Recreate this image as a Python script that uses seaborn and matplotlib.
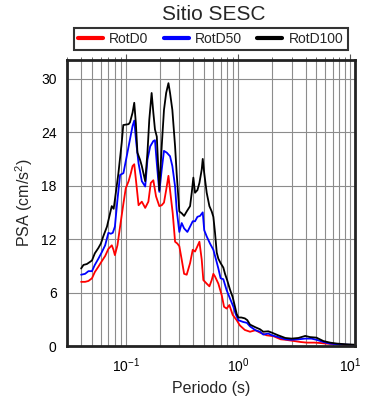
import matplotlib
matplotlib.use("Agg")
import matplotlib.pyplot as plt
import matplotlib.ticker as mticker
import pandas as pd
import seaborn as sns

# periods (s) and PSA (cm/s^2)
period_d0 = [0.040, 0.0434, 0.0465, 0.050, 0.053, 0.057, 0.061, 0.0655, 0.070, 0.0751,
             0.0777, 0.080, 0.0843, 0.089, 0.0953, 0.100, 0.106, 0.111, 0.115, 0.119,
             0.124, 0.130, 0.139, 0.149, 0.159, 0.167, 0.176, 0.186, 0.199, 0.209,
             0.219, 0.229, 0.240, 0.248, 0.262, 0.275, 0.288, 0.300, 0.315, 0.331,
             0.349, 0.374, 0.395, 0.414, 0.435, 0.453, 0.475, 0.491, 0.526, 0.556,
             0.583, 0.603, 0.624, 0.668, 0.716, 0.751, 0.793, 0.837, 0.896, 0.973,
             1.04, 1.15, 1.28, 1.43, 1.57, 1.8, 2.07, 2.4, 2.64, 3.0,
             3.6, 4.1, 4.8, 5.35, 6.1, 7.6, 9.3, 10.8]
psa_d0 = [7.2, 7.2, 7.3, 7.6, 8.3, 8.9, 9.5, 10.1, 10.9, 11.3,
          10.8, 10.2, 11.3, 13.4, 16.0, 17.7, 18.5, 19.4, 20.2, 20.4,
          18.3, 15.8, 16.2, 15.5, 16.2, 18.3, 18.6, 16.8, 15.7, 15.8,
          16.1, 17.5, 19.1, 17.5, 14.9, 11.7, 11.5, 11.2, 9.7, 8.1,
          8.0, 9.3, 10.8, 10.6, 11.2, 11.7, 9.7, 7.4, 7.0, 6.7,
          7.4, 8.1, 7.8, 7.0, 5.7, 4.4, 4.2, 4.6, 3.5, 2.9,
          2.3, 1.8, 1.6, 1.77, 1.5, 1.2, 1.1, 0.75, 0.7, 0.6,
          0.45, 0.38, 0.38, 0.34, 0.27, 0.2, 0.11, 0.08]

period_d50 = [0.040, 0.0434, 0.0465, 0.050, 0.053, 0.057, 0.061, 0.0655, 0.070, 0.0735,
              0.0766, 0.080, 0.0843, 0.089, 0.0953, 0.102, 0.109, 0.115, 0.119, 0.124,
              0.130, 0.139, 0.149, 0.156, 0.165, 0.176, 0.182, 0.189, 0.199, 0.209,
              0.219, 0.232, 0.248, 0.260, 0.275, 0.284, 0.300, 0.315, 0.331, 0.354,
              0.374, 0.395, 0.414, 0.435, 0.459, 0.485, 0.50, 0.526, 0.563, 0.603,
              0.637, 0.668, 0.70, 0.74, 0.79, 0.85, 0.91, 0.96, 1.007, 1.11,
              1.2, 1.28, 1.43, 1.57, 1.68, 1.86, 2.0, 2.28, 2.64, 3.0,
              3.45, 3.97, 4.5, 5.0, 5.75, 6.6, 7.6, 9.3, 10.8]
psa_d50 = [8.0, 8.1, 8.4, 8.4, 9.1, 9.8, 10.5, 11.3, 12.7, 12.6,
           12.7, 13.4, 16.4, 19.2, 19.4, 21.3, 23.2, 24.7, 25.3, 22.8,
           20.5, 18.5, 17.9, 20.9, 22.4, 23.0, 23.1, 20.5, 17.3, 19.8,
           21.9, 21.7, 21.3, 20.2, 17.9, 15.3, 12.8, 13.8, 13.2, 12.8,
           13.4, 14.0, 14.0, 14.5, 14.6, 15.0, 13.0, 12.3, 11.5, 10.8,
           9.7, 8.7, 7.6, 7.5, 6.3, 5.3, 4.4, 3.5, 2.9, 2.7,
           2.6, 2.2, 1.77, 1.6, 1.28, 1.4, 1.2, 1.0, 0.75, 0.7,
           0.75, 0.83, 0.83, 0.7, 0.45, 0.27, 0.2, 0.15, 0.11]

period_d100 = [0.040, 0.042, 0.045, 0.0475, 0.050, 0.053, 0.057, 0.060, 0.063, 0.068,
               0.0725, 0.075, 0.078, 0.080, 0.086, 0.092, 0.095, 0.106, 0.109, 0.115,
               0.119, 0.123, 0.127, 0.134, 0.139, 0.149, 0.156, 0.162, 0.170, 0.176,
               0.182, 0.189, 0.199, 0.209, 0.219, 0.229, 0.240, 0.248, 0.260, 0.275,
               0.284, 0.300, 0.315, 0.331, 0.349, 0.374, 0.387, 0.400, 0.414, 0.435,
               0.453, 0.475, 0.485, 0.50, 0.526, 0.556, 0.583, 0.603, 0.624, 0.646,
               0.668, 0.70, 0.74, 0.766, 0.80, 0.85, 0.896, 0.94, 0.973, 1.007,
               1.07, 1.15, 1.21, 1.28, 1.43, 1.57, 1.68, 1.86, 2.0, 2.28,
               2.64, 3.0, 3.45, 3.97, 4.38, 5.0, 5.75, 6.6, 7.6, 9.3, 10.8]
psa_d100 = [8.7, 9.1, 9.2, 9.4, 9.6, 10.4, 11.0, 11.5, 12.3, 13.4,
            14.9, 15.7, 15.4, 16.4, 19.4, 22.8, 24.8, 24.9, 25.1, 26.2,
            27.3, 25.0, 21.7, 20.9, 20.2, 18.5, 21.7, 25.4, 28.4, 26.2,
            24.3, 23.5, 17.5, 22.4, 26.5, 28.4, 29.5, 28.4, 26.5, 22.4,
            19.4, 15.1, 14.9, 14.6, 15.1, 15.7, 17.2, 18.9, 17.2, 17.5,
            18.3, 19.8, 21.0, 19.4, 17.2, 15.7, 15.1, 14.5, 12.7, 10.5,
            9.8, 9.3, 8.8, 8.1, 7.4, 6.3, 5.5, 4.4, 3.6, 3.2,
            3.2, 3.1, 2.9, 2.4, 2.1, 1.88, 1.6, 1.65, 1.5, 1.2,
            0.9, 0.83, 0.9, 1.13, 1.0, 0.94, 0.56, 0.38, 0.27, 0.19, 0.15]

labels = ["RotD0", "RotD50", "RotD100"]
colors = ["#ff0000", "#0000ff", "#000000"]
y_ticks = [0, 6, 12, 18, 24, 30]

df = pd.concat([
    pd.DataFrame({"Periodo": period_d0, "PSA": psa_d0, "Componente": labels[0]}),
    pd.DataFrame({"Periodo": period_d50, "PSA": psa_d50, "Componente": labels[1]}),
    pd.DataFrame({"Periodo": period_d100, "PSA": psa_d100, "Componente": labels[2]}),
], ignore_index=True)

sns.set_theme(style="white")
plt.rcParams["font.family"] = ["Liberation Sans", "DejaVu Sans"]
plt.rcParams["mathtext.fontset"] = "custom"
plt.rcParams["mathtext.rm"] = "Liberation Sans"

fig = plt.figure(figsize=(3.9, 4.0), dpi=100)
ax = fig.add_axes([0.172, 0.135, 0.738, 0.715])

sns.lineplot(data=df, x="Periodo", y="PSA", hue="Componente", hue_order=labels,
             palette=colors, linewidth=1.3, sort=False, estimator=None, ax=ax)

ax.set_xscale("log")
ax.set_xlim(0.03, 11)
ax.set_ylim(0, 32.1)
ax.set_yticks(y_ticks)
ax.xaxis.set_minor_locator(mticker.LogLocator(base=10, subs=range(2, 10)))

ax.grid(True, which="both", axis="x", color="#8c8c8c", linewidth=0.8)
ax.grid(True, which="major", axis="y", color="#8c8c8c", linewidth=0.8)
ax.set_axisbelow(True)

for s in ax.spines.values():
    s.set_color("#222222")
    s.set_linewidth(2)

ax.tick_params(axis="both", which="major", direction="out", length=4, width=0.8,
               colors="#555555", labelcolor="black", labelsize=10)
ax.tick_params(axis="x", which="minor", direction="out", length=2.5, width=0.6,
               colors="#555555")
ax.tick_params(axis="x", which="both", top=True)

ax.set_xlabel("Periodo (s)", fontsize=11.5)
ax.set_ylabel("PSA (cm/s$^2$)", fontsize=11.5)

handles, lbls = ax.get_legend_handles_labels()
ax.get_legend().remove()
leg = fig.legend(handles, lbls, loc="center", bbox_to_anchor=(0.54, 0.9025), ncol=3,
                 fontsize=10, frameon=True, fancybox=False, handlelength=1.8,
                 columnspacing=1.1, handletextpad=0.45, borderpad=0.3,
                 borderaxespad=0)
leg.get_frame().set_edgecolor("black")
leg.get_frame().set_linewidth(1.5)
for line in leg.get_lines():
    line.set_linewidth(3)

fig.text(0.547, 0.965, "Sitio SESC", ha="center", va="center", fontsize=15)

fig.savefig("out.png", dpi=100)
